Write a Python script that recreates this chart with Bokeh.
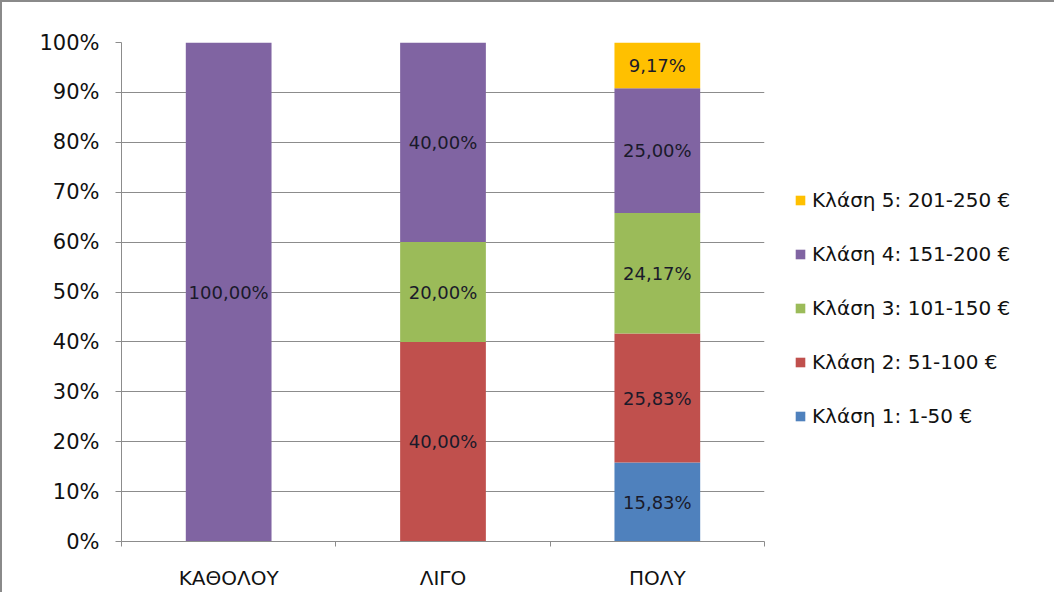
from bokeh.plotting import figure
from bokeh.models import (ColumnDataSource, Legend, LegendItem, FixedTicker,
                          NumeralTickFormatter, Range1d)
from bokeh.core.properties import value
from bokeh.embed import file_html
from bokeh.resources import INLINE

categories = ["ΚΑΘΟΛΟΥ", "ΛΙΓΟ", "ΠΟΛΥ"]
series_names = ["Κλάση 1: 1-50 €", "Κλάση 2: 51-100 €", "Κλάση 3: 101-150 €",
                "Κλάση 4: 151-200 €", "Κλάση 5: 201-250 €"]
klasi1 = [0.0, 0.0, 15.83]
klasi2 = [0.0, 40.00, 25.83]
klasi3 = [0.0, 20.00, 24.17]
klasi4 = [100.00, 40.00, 25.00]
klasi5 = [0.0, 0.0, 9.17]
colors = ["#4F81BD", "#C0504D", "#9BBB59", "#8064A2", "#FFC000"]

series = [klasi1, klasi2, klasi3, klasi4, klasi5]
FONT = "DejaVu Sans"

p = figure(output_backend="svg", toolbar_location=None,
           frame_width=643, frame_height=499,
           min_border_left=119, min_border_top=40, min_border_bottom=46,
           min_border_right=272,
           x_range=Range1d(0, 3), y_range=Range1d(0, 1))
p.styles = {"border-left": "2px solid #8a8a8a", "border-top": "2px solid #8a8a8a"}
p.outline_line_color = None
p.background_fill_color = "white"
p.border_fill_color = "white"

xs = [i + 0.5 for i in range(len(categories))]
renderers = []
bottoms = [0.0] * len(categories)
for vals, col, name in zip(series, colors, series_names):
    tops = [b + v / 100.0 for b, v in zip(bottoms, vals)]
    src = ColumnDataSource(dict(x=xs, bottom=bottoms, top=tops))
    r = p.vbar(x="x", width=0.4, bottom="bottom", top="top", source=src,
               fill_color=col, line_color=None)
    renderers.append((name, r, col))
    lab_src = ColumnDataSource(dict(
        x=[x for x, v in zip(xs, vals) if v > 0],
        y=[(b + t) / 2 for b, t, v in zip(bottoms, tops, vals) if v > 0],
        lab=[("%.2f%%" % v).replace(".", ",") for v in vals if v > 0]))
    p.text(x="x", y="y", text="lab", source=lab_src, text_align="center",
           text_baseline="middle", text_font=value(FONT), text_font_size="18px",
           text_color="#1a1a2a")
    bottoms = tops

# grid
p.xgrid.visible = False
p.ygrid.ticker = FixedTicker(ticks=[i / 10 for i in range(11)])
p.ygrid.grid_line_color = "#8c8c8c"
p.ygrid.grid_line_width = 1

# y axis
p.yaxis.ticker = FixedTicker(ticks=[i / 10 for i in range(11)])
p.yaxis.formatter = NumeralTickFormatter(format="0%")
p.yaxis.major_label_text_font = FONT
p.yaxis.major_label_text_font_size = "21px"
p.yaxis.major_label_text_color = "#111111"
p.yaxis.axis_line_color = "#8c8c8c"
p.yaxis.major_tick_line_color = "#8c8c8c"
p.yaxis.major_tick_out = 6
p.yaxis.major_tick_in = 0
p.yaxis.minor_tick_line_color = None
p.yaxis.major_label_standoff = 16

# x axis
p.xaxis.ticker = FixedTicker(ticks=xs, minor_ticks=[0, 1, 2, 3])
p.xaxis.major_label_overrides = {x: c for x, c in zip(xs, categories)}
p.xaxis.major_label_text_font = FONT
p.xaxis.major_label_text_font_size = "20px"
p.xaxis.major_label_text_color = "#111111"
p.xaxis.axis_line_color = "#8c8c8c"
p.xaxis.major_tick_line_color = None
p.xaxis.minor_tick_line_color = "#8c8c8c"
p.xaxis.minor_tick_out = 5
p.xaxis.minor_tick_in = 0
p.xaxis.major_label_standoff = 18

items = [LegendItem(label=name, renderers=[r]) for name, r, c in reversed(renderers)]
legend = Legend(items=items, location=(30, 113), orientation="vertical")
legend.glyph_width = 12
legend.glyph_height = 12
legend.label_height = 20
legend.spacing = 30
legend.padding = 0
legend.margin = 0
legend.label_standoff = 6
legend.label_text_font = FONT
legend.label_text_font_size = "20px"
legend.label_text_color = "#111111"
legend.border_line_color = None
legend.background_fill_alpha = 0
p.add_layout(legend, "right")

open("out.html", "w").write(file_html(p, INLINE))
